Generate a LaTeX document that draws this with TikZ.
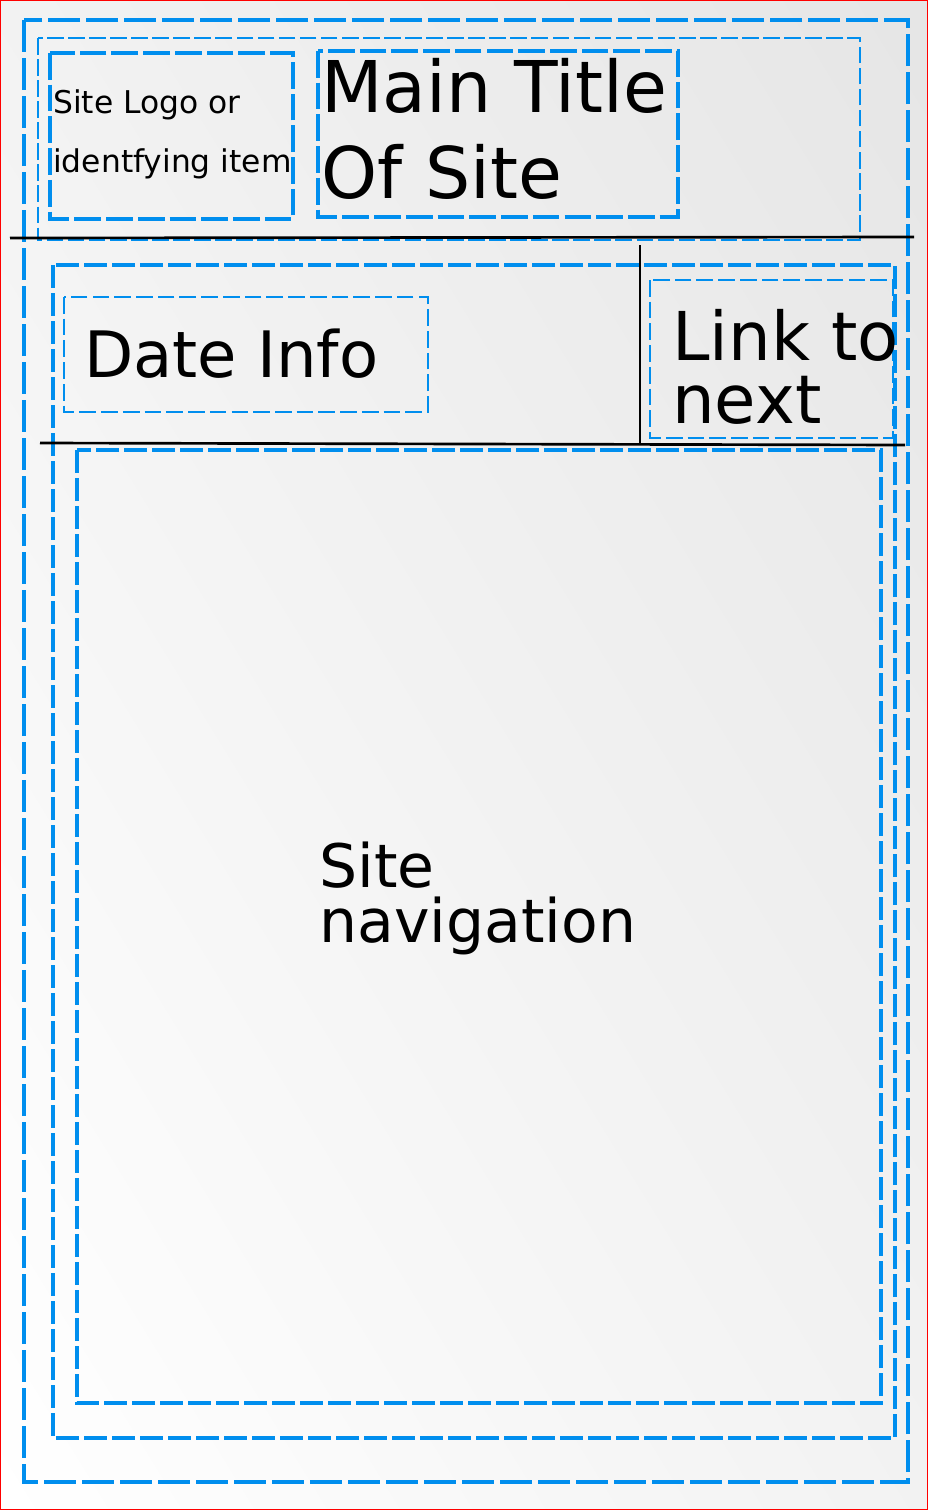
\documentclass[tikz,border=0pt]{standalone}
\usepackage{fontspec}
\setmainfont{DejaVu Sans}
\usepackage{tikz}
\usetikzlibrary{shadings}

\begin{document}
\begin{tikzpicture}
    [x=0.75pt,y=-0.75pt,line join=miter,
    % Styles
    page box/.style={draw=boxblue,line width=3.7pt,dash pattern=on 24pt off 4.5pt},
    header box/.style={draw=boxblue,line width=1.7pt,dash pattern=on 12.5pt off 3.3pt},
    item box/.style={draw=boxblue,line width=2.8pt,dash pattern=on 20pt off 3.8pt},
    row box/.style={draw=boxblue,line width=2.5pt,dash pattern=on 17pt off 4pt},
    small box/.style={draw=boxblue,line width=2pt,dash pattern=on 12.5pt off 3.8pt},
    rule line/.style={black,line width=2pt},
    label text/.style={anchor=base west,inner sep=0pt,align=left}]

    % Colors
    \definecolor{boxblue}{RGB}{0,142,238}

    % Coordinates
    \coordinate (top rule west) at (10,238);
    \coordinate (top rule east) at (914,237);
    \coordinate (mid rule west) at (40,443);
    \coordinate (mid rule east) at (905,445);
    \coordinate (split top) at (640,245);
    \coordinate (split bottom) at (640,445);

    % Background
    \useasboundingbox (0,0) rectangle (928,1510);
    \begin{scope}[y=0.75pt]
        \shade[lower left=white,upper right=black!10,
               lower right=black!5,upper left=black!5] (0,-1510) rectangle (928,0);
    \end{scope}
    \draw[red,line width=0.75pt] (0.5,0.5) rectangle (927.5,1509.5);

    % Boxes
    \draw[page box] (24,20) rectangle (908,1482);
    \draw[header box] (38,38) rectangle (860,240);
    \draw[item box] (50,53) rectangle (293,219);
    \draw[item box] (318,51) rectangle (678,217);
    \draw[row box] (53,265) rectangle (895,1438);
    \draw[small box] (64,297) rectangle (428,412);
    \draw[small box] (650,280) rectangle (893,438);
    \draw[row box] (77,450) rectangle (881,1403);

    % Rules
    \draw[rule line] (top rule west) -- (top rule east);
    \draw[rule line] (mid rule west) -- (mid rule east);
    \draw[rule line,line width=1.5pt] (split top) -- (split bottom);

    % Labels (anchored on the last baseline)
    \node[label text,font={\fontsize{23.5}{44}\selectfont}] (logo) at (53,172)
        {Site Logo or\\identfying item};
    \node[label text,font={\fontsize{53.5}{64.5}\selectfont}] (title) at (321,198)
        {Main Title\\Of Site};
    \node[label text,font={\fontsize{48}{56}\selectfont}] (date) at (84,377)
        {Date Info};
    \node[label text,font={\fontsize{50.5}{47}\selectfont}] (next) at (672,423)
        {Link to\\next};
    \node[label text,font={\fontsize{45}{41}\selectfont}] (nav) at (319,942)
        {Site\\navigation};

\end{tikzpicture}
\end{document}
